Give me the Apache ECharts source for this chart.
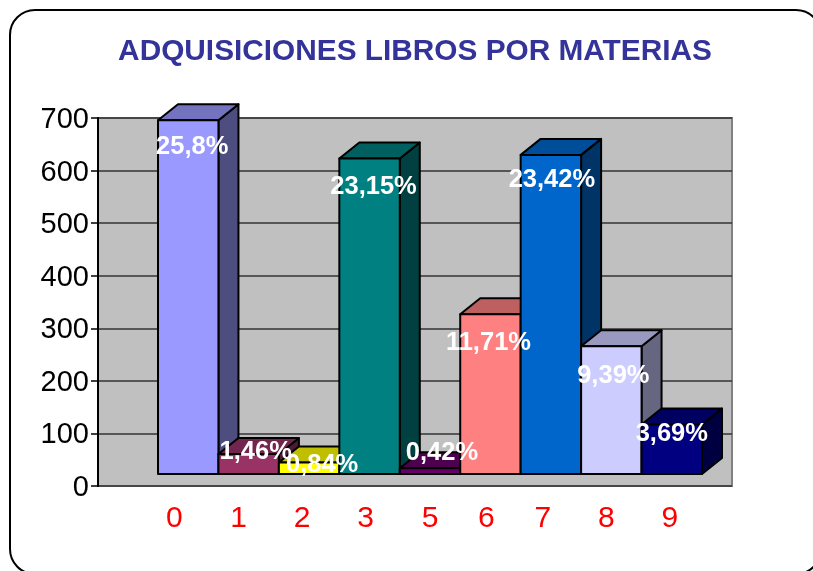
<!DOCTYPE html>
<html>
<head>
<meta charset="utf-8">
<style>html,body{margin:0;padding:0;background:#fff}#c{width:813px;height:571px}</style>
<script src="https://cdn.jsdelivr.net/npm/echarts@6/dist/echarts.min.js"></script>
</head>
<body>
<div id="c"></div>
<script>
const chartTitle = 'ADQUISICIONES LIBROS POR MATERIAS';
const categories = ['0','1','2','3','5','6','7','8','9'];
const values = [673, 38, 22, 600, 11, 304, 607, 243, 94];
const percentLabels = ['25,8%','1,46%','0,84%','23,15%','0,42%','11,71%','23,42%','9,39%','3,69%'];
const yTicks = {min: 0, max: 700, interval: 100};
const barColors = ['#9999FF','#993366','#FFFF00','#008080','#660066','#FF8080','#0066CC','#CCCCFF','#000080'];
// Hand placement of the data labels relative to each bar's front-top centre, in px.
const labelShiftX = [4, 7, 13, 4, 12, -2, 1, 2, 0];
const labelShiftY = [27, -2, 3, 28, -15, 29, 25, 30, 9];
// Axis labels sit a little left of their bars in the reference, in px.
const axisLabelShift = [14, 10, 7, 4, 0, 4, 8, 5, 2];

const FONT = '"Liberation Sans", Arial, sans-serif';
const depthX = 20, depthY = 16, floorLift = 12;

function shade(hex, f) {
  const n = parseInt(hex.slice(1), 16);
  const c = s => Math.round(((n >> s) & 255) * f);
  return 'rgb(' + c(16) + ',' + c(8) + ',' + c(0) + ')';
}

function renderBar(params, api) {
  const i = api.value(0), v = api.value(1);
  const top = api.coord([i, v]), base = api.coord([i, 0]);
  const w = api.size([1, 0])[0];
  const xl = top[0] - w / 2, xr = top[0] + w / 2;
  const yt = top[1] - floorLift, yb = base[1] - floorLift;
  const col = barColors[i];
  const stroke = {stroke: '#000', lineWidth: 2, lineJoin: 'round'};
  const poly = (points, fill) => ({type: 'polygon', shape: {points}, style: Object.assign({fill}, stroke)});
  return {type: 'group', children: [
    poly([[xr, yt], [xr + depthX, yt - depthY], [xr + depthX, yb - depthY], [xr, yb]], shade(col, 0.5)),
    poly([[xl, yt], [xl + depthX, yt - depthY], [xr + depthX, yt - depthY], [xr, yt]], shade(col, 0.75)),
    poly([[xl, yt], [xr, yt], [xr, yb], [xl, yb]], col)
  ]};
}

function renderLabel(params, api) {
  const i = api.value(0), v = api.value(1);
  const top = api.coord([i, v]);
  return {type: 'text', style: {
    x: top[0] + labelShiftX[i],
    y: top[1] - floorLift + labelShiftY[i],
    text: percentLabels[i],
    fill: '#fff',
    font: 'bold 25.5px ' + FONT,
    align: 'center',
    verticalAlign: 'middle'
  }};
}

const rich = {};
categories.forEach((c, i) => {
  rich['s' + i] = {color: '#FF0000', fontSize: 30, fontFamily: FONT, padding: [0, axisLabelShift[i] * 2, 0, 0]};
});

const points = categories.map((c, i) => [i, values[i]]);
const chart = echarts.init(document.getElementById('c'), null, {renderer: 'canvas'});
chart.setOption({
  animation: false,
  backgroundColor: '#fff',
  title: {
    text: chartTitle, left: 410, top: 32, textAlign: 'center',
    textStyle: {color: '#333399', fontFamily: FONT, fontWeight: 'bold', fontSize: 29.8}
  },
  graphic: [{
    type: 'rect', z: -10, silent: true,
    shape: {x: 10, y: 10, width: 811, height: 564, r: 25},
    style: {fill: '#fff', stroke: '#000', lineWidth: 2}
  }],
  grid: [
    {left: 98, right: 81, top: 118, bottom: 85, show: true, backgroundColor: '#C0C0C0', borderColor: '#808080', borderWidth: 2},
    {left: 158, right: 111, top: 118, bottom: 85}
  ],
  xAxis: [
    {gridIndex: 0, type: 'category', data: categories, show: false},
    {gridIndex: 1, type: 'category', data: categories, axisLine: {show: false}, axisTick: {show: false},
     axisLabel: {margin: 18, interval: 0, formatter: (val, idx) => '{s' + idx + '|' + val + '}', rich}}
  ],
  yAxis: [
    {gridIndex: 0, type: 'value', min: yTicks.min, max: yTicks.max, interval: yTicks.interval,
     axisLine: {show: true, lineStyle: {color: '#000', width: 2}},
     axisTick: {show: true, length: 7, lineStyle: {color: '#000', width: 1.5}},
     axisLabel: {margin: 9, verticalAlignMinLabel: 'middle', verticalAlignMaxLabel: 'middle',
       formatter: '{v|{value}}',
       rich: {v: {color: '#000', fontSize: 29, fontFamily: FONT, padding: [4, 0, 0, 0]}}},
     splitLine: {show: true, lineStyle: {color: '#333', width: 1.5}}},
    {gridIndex: 1, type: 'value', min: yTicks.min, max: yTicks.max, interval: yTicks.interval, show: false, splitLine: {show: false}}
  ],
  series: [
    {type: 'custom', xAxisIndex: 1, yAxisIndex: 1, renderItem: renderBar, data: points, z: 3, clip: false,
     encode: {x: 0, y: 1}},
    {type: 'custom', xAxisIndex: 1, yAxisIndex: 1, renderItem: renderLabel, data: points, z: 5, clip: false,
     encode: {x: 0, y: 1}}
  ]
});
</script>
</body>
</html>
